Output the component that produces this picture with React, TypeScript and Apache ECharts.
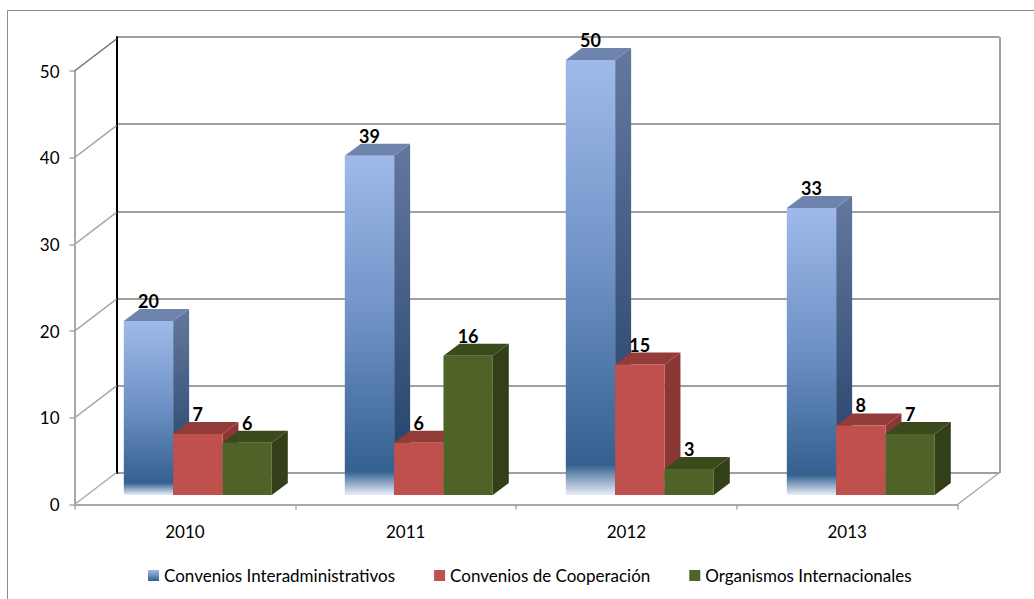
import React, { useEffect, useRef } from "react";
import * as echarts from "echarts";

const years = ["2010", "2011", "2012", "2013"];
const interadmin = [20, 39, 50, 33];
const cooperacion = [7, 6, 15, 8];
const organismos = [6, 16, 3, 7];
const yTicks = [0, 10, 20, 30, 40, 50];
const names = ["Convenios Interadministrativos", "Convenios de Cooperación", "Organismos Internacionales"];

const FONT = "Lato, Carlito, sans-serif";
const DX = 16;
const DY = 12;
const WALL_DX = 42;
const WALL_DY = 32;
const GREY = "#a8a8a8";

const blueFront = () =>
  new echarts.graphic.LinearGradient(0, 0, 0, 1, [
    { offset: 0, color: "#9fbaea" },
    { offset: 0.5, color: "#6d90c4" },
    { offset: 0.93, color: "#34608f" },
    { offset: 1, color: "#e8eef9" },
  ]);
const blueSide = () =>
  new echarts.graphic.LinearGradient(0, 0, 0, 1, [
    { offset: 0, color: "#64789e" },
    { offset: 1, color: "#1f3e66" },
  ]);

const palettes = [
  { front: blueFront, side: blueSide, top: () => "#6e84ac" },
  { front: () => "#c0504d", side: () => "#8b3735", top: () => "#933b39" },
  { front: () => "#4f6228", side: () => "#323f19", top: () => "#3a4a1d" },
];

function barItem(idx: number) {
  return (params: any, api: any) => {
    const cat = api.value(0);
    const val = api.value(1);
    const p1 = api.coord([cat, val]);
    const p0 = api.coord([cat, 0]);
    const band = api.size([1, 0])[0];
    const w = band * 0.2232;
    const x = p1[0] + (idx - 1.5) * w;
    const yT = p1[1];
    const yB = p0[1];
    const pal = palettes[idx];
    return {
      type: "group",
      children: [
        {
          type: "polygon",
          shape: { points: [[x + w, yB], [x + w + DX, yB - DY], [x + w + DX, yT - DY], [x + w, yT]] },
          style: { fill: pal.side() },
        },
        {
          type: "polygon",
          shape: { points: [[x, yT], [x + DX, yT - DY], [x + w + DX, yT - DY], [x + w, yT]] },
          style: { fill: pal.top() },
        },
        { type: "rect", shape: { x, y: yT, width: w, height: yB - yT }, style: { fill: pal.front() } },
        {
          type: "text",
          z2: 50,
          style: {
            text: String(val),
            x: x + w / 2,
            y: yT - 20,
            align: "center",
            verticalAlign: "middle",
            font: `bold 18px ${FONT}`,
            fill: "#000",
          },
        },
      ],
    };
  };
}

function wallItem(params: any, api: any) {
  const v = api.value(0);
  const p = api.coord([0, v]);
  const x = params.coordSys.x;
  const y = p[1];
  return {
    type: "line",
    shape: { x1: x, y1: y, x2: x + WALL_DX, y2: y - WALL_DY },
    style: { stroke: v === 50 ? "#707070" : GREY, lineWidth: 1.5 },
  };
}

function floorItem(params: any, api: any) {
  const c = params.coordSys;
  const y = c.y + c.height;
  return {
    type: "line",
    shape: { x1: c.x + c.width, y1: y, x2: c.x + c.width + WALL_DX, y2: y - WALL_DY },
    style: { stroke: GREY, lineWidth: 1.5 },
  };
}

export default function App() {
  const ref = useRef<HTMLDivElement>(null);
  useEffect(() => {
    document.body.style.margin = "0";
    document.body.style.overflow = "hidden";
    const chart = echarts.init(ref.current!, undefined, { renderer: "svg" });
    const seriesValues = [interadmin, cooperacion, organismos];
    const legendColors: any[] = [
      new echarts.graphic.LinearGradient(0, 0, 0, 1, [
        { offset: 0, color: "#9fbaea" },
        { offset: 1, color: "#34608f" },
      ]),
      "#c0504d",
      "#4f6228",
    ];
    chart.setOption({
      animation: false,
      backgroundColor: "#fff",
      textStyle: { fontFamily: FONT },
      graphic: [
        {
          type: "rect",
          silent: true,
          shape: { x: 7.5, y: 10.5, width: 1100, height: 700 },
          style: { fill: "none", stroke: "#8c8c8c", lineWidth: 1 },
        },
      ],
      grid: [
        { left: 116.5, top: 37, width: 883, height: 436 },
        { left: 74.5, top: 71, width: 883, height: 433.5 },
        { left: 87.3, top: 60, width: 884, height: 435 },
      ],
      xAxis: [
        {
          gridIndex: 0,
          type: "category",
          data: years,
          axisLabel: { show: false },
          axisTick: { show: false },
          axisLine: { show: false },
          splitLine: { show: false },
        },
        {
          gridIndex: 1,
          type: "category",
          data: years,
          axisLabel: { fontSize: 17, color: "#000", margin: 18, fontFamily: FONT },
          axisTick: { show: true, length: 5, alignWithLabel: false, lineStyle: { color: GREY, width: 1.5 } },
          axisLine: { show: true, lineStyle: { color: GREY, width: 2 } },
          splitLine: { show: false },
        },
        {
          gridIndex: 2,
          type: "category",
          data: years,
          show: false,
        },
      ],
      yAxis: [
        {
          gridIndex: 0,
          type: "value",
          min: 0,
          max: 50,
          interval: 10,
          axisLabel: { show: false },
          axisTick: { show: false },
          axisLine: { show: true, lineStyle: { color: "#000", width: 2 } },
          splitLine: { show: true, lineStyle: { color: "#a0a0a0", width: 2 } },
        },
        {
          gridIndex: 1,
          type: "value",
          min: 0,
          max: 50,
          interval: 10,
          axisLabel: { fontSize: 17, color: "#000", margin: 15, fontFamily: FONT },
          axisTick: { show: true, length: 5, lineStyle: { color: GREY, width: 1.5 } },
          axisLine: { show: true, lineStyle: { color: GREY, width: 2 } },
          splitLine: { show: false },
        },
        { gridIndex: 2, type: "value", min: 0, max: 50, interval: 10, show: false },
      ],
      legend: {
        left: 143,
        top: 562,
        itemWidth: 11,
        itemHeight: 11,
        itemGap: 39,
        icon: "rect",
        textStyle: { fontSize: 17, color: "#000", fontFamily: FONT },
        data: names.map((n, i) => ({ name: n, itemStyle: { color: legendColors[i] } })),
      },
      series: [
        {
          type: "custom",
          silent: true,
          xAxisIndex: 1,
          yAxisIndex: 1,
          data: yTicks.map((v) => [v]),
          encode: { y: 0 },
          renderItem: wallItem,
          z: 1,
        },
        {
          type: "custom",
          silent: true,
          xAxisIndex: 1,
          yAxisIndex: 1,
          data: [[0]],
          encode: { y: 0 },
          renderItem: floorItem,
          z: 1,
        },
        {
          type: "line",
          silent: true,
          xAxisIndex: 0,
          yAxisIndex: 0,
          data: [],
          markLine: {
            silent: true,
            symbol: "none",
            label: { show: false },
            lineStyle: { color: "#a0a0a0", width: 2, type: "solid" },
            data: [[{ x: 999.5, y: 37 }, { x: 999.5, y: 473 }]],
          },
        },
        ...names.map((name, i) => ({
          type: "custom",
          name,
          silent: true,
          xAxisIndex: 2,
          yAxisIndex: 2,
          z: 5 + i,
          itemStyle: { color: legendColors[i] },
          data: seriesValues[i].map((v, c) => [c, v]),
          encode: { x: 0, y: 1 },
          renderItem: barItem(i),
        })),
      ],
    });
    return () => chart.dispose();
  }, []);
  return <div ref={ref} style={{ position: "absolute", left: 0, top: 0, width: 1034, height: 599 }} />;
}
